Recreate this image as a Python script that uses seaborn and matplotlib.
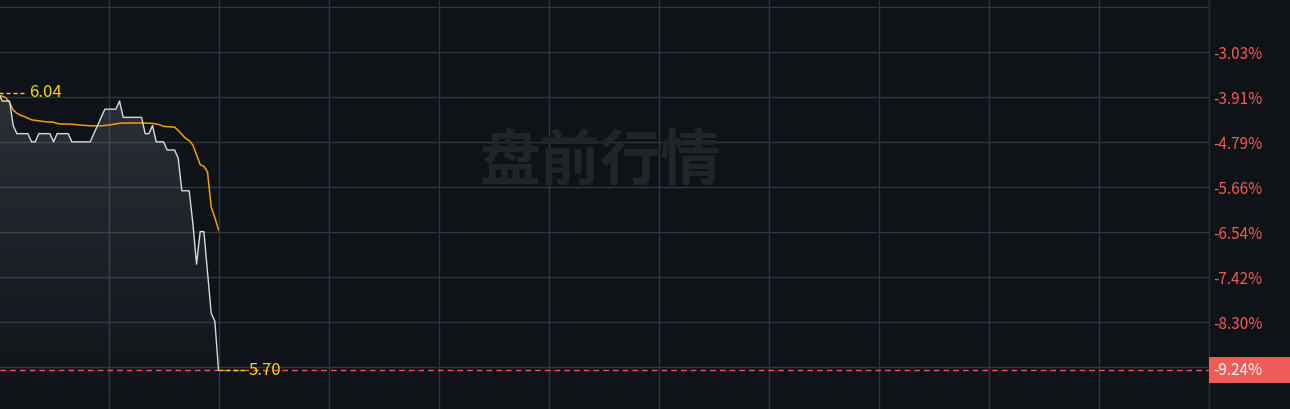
import numpy as np
import pandas as pd
import matplotlib
matplotlib.use('Agg')
import matplotlib.pyplot as plt
import matplotlib.transforms as mtransforms
from matplotlib.patches import Rectangle
import seaborn as sns

# === data (pre-market, one point per minute from 4:00) ===
minutes = list(range(61))
price = [6.04, 6.03, 6.03, 6.03, 6.00, 5.99, 5.99, 5.99, 5.99, 5.98,
         5.98, 5.99, 5.99, 5.99, 5.99, 5.98, 5.99, 5.99, 5.99, 5.99,
         5.98, 5.98, 5.98, 5.98, 5.98, 5.98, 5.99, 6.00, 6.01, 6.02,
         6.02, 6.02, 6.02, 6.03, 6.01, 6.01, 6.01, 6.01, 6.01, 6.01,
         5.99, 5.99, 6.00, 5.98, 5.98, 5.98, 5.97, 5.97, 5.97, 5.96,
         5.92, 5.92, 5.92, 5.88, 5.83, 5.87, 5.87, 5.82, 5.77, 5.76,
         5.70]
avg_price = [6.037, 6.036, 6.034, 6.028, 6.019, 6.015, 6.0125, 6.011, 6.009, 6.007,
             6.0063, 6.0057, 6.0051, 6.0045, 6.0043, 6.0040, 6.0025, 6.0018, 6.0018, 6.0018,
             6.0015, 6.0011, 6.0007, 6.0003, 6.0000, 5.9997, 5.9995, 5.9994, 5.9996, 6.0000,
             6.0005, 6.0012, 6.0020, 6.0027, 6.0030, 6.0030, 6.0031, 6.0031, 6.0031, 6.0030,
             6.0029, 6.0028, 6.0025, 6.0020, 6.0008, 5.9990, 5.9985, 5.9983, 5.9981, 5.9939,
             5.9890, 5.9843, 5.9816, 5.976, 5.964, 5.952, 5.950, 5.943, 5.900, 5.887,
             5.872]
prev_close = 6.28

grid_pct = [-2.15, -3.03, -3.91, -4.79, -5.66, -6.54, -7.42, -8.30, -9.17]
tick_labels = ['', '-3.03%', '-3.91%', '-4.79%', '-5.66%', '-6.54%', '-7.42%', '-8.30%', '']
watermark = '盘前行情'

df = pd.DataFrame({'minute': minutes, 'price': price, 'avg': avg_price})
df['pct'] = (df['price'] / prev_close - 1) * 100
df['avg_pct'] = (df['avg'] / prev_close - 1) * 100

# === style ===
bg = '#0f1217'
grid_c = '#2c3644'
red = '#f25b58'
yellow = '#f5d800'

sns.set_theme(style='dark', rc={'axes.facecolor': bg, 'figure.facecolor': bg})
plt.rcParams['font.family'] = ['Noto Sans CJK SC', 'DejaVu Sans']

W, H = 1290, 409
fig = plt.figure(figsize=(W / 100, H / 100), dpi=100)
ax = fig.add_axes([0, 0, 1208.5 / W, 1])
ax.set_facecolor(bg)

ylo, yhi = -9.992, -2.009
xlo, xhi = 0.4, 330

# gradient fill under price line
poly = ax.fill_between(df['minute'], df['pct'], ylo, facecolor='none', edgecolor='none')
alpha = np.linspace(0.16, 0.0, 256).reshape(-1, 1)
rgba = np.zeros((256, 1, 4))
rgba[..., 0] = 0.80
rgba[..., 1] = 0.82
rgba[..., 2] = 0.86
rgba[..., 3] = alpha
im = ax.imshow(rgba, extent=[0, df['minute'].max(), ylo, df['pct'].max()],
               aspect='auto', origin='upper', zorder=1, interpolation='bilinear')
im.set_clip_path(poly.get_paths()[0], transform=ax.transData)

sns.lineplot(data=df, x='minute', y='avg_pct', color='#f39c12', linewidth=1.1, ax=ax, zorder=3)
sns.lineplot(data=df, x='minute', y='pct', color='#d9d9d9', linewidth=1.0, ax=ax, zorder=4)

# grid
for g in grid_pct:
    ax.axhline(g, color=grid_c, linewidth=1, zorder=0)
for vx in range(30, 331, 30):
    ax.axvline(vx, color=grid_c, linewidth=1, zorder=0)

# watermark
ax.text(0.497, 0.604, watermark, transform=ax.transAxes, ha='center', va='center',
        fontsize=43.5, fontweight='bold', color='#212429', zorder=0.5)

# last price dashed line
last_pct = df['pct'].iloc[-1]
ax.axhline(last_pct, color=red, linewidth=1, linestyle=(0, (4, 3)), zorder=2)

# high / low markers
hi_i = df['pct'].idxmax()
lo_i = df['pct'].idxmin()
for i in (hi_i, lo_i):
    m = df['minute'].iloc[i]
    p = df['pct'].iloc[i]
    ax.plot([m, m + 7], [p, p], color=yellow, linewidth=1, linestyle=(0, (3, 2)), zorder=5)
    ax.text(m + 8.3, p, f"{df['price'].iloc[i]:.2f}", color=yellow, fontsize=12,
            ha='left', va='center', zorder=6)

ax.set_xlim(xlo, xhi)
ax.set_ylim(ylo, yhi)
ax.set_xticks([])
ax.yaxis.tick_right()
ax.set_yticks(grid_pct)
ax.set_yticklabels(tick_labels)
ax.tick_params(axis='y', length=0, pad=3.5, labelsize=11, labelcolor=red)
ax.set_xlabel('')
ax.set_ylabel('')
for s in ['top', 'left', 'bottom']:
    ax.spines[s].set_visible(False)
ax.spines['right'].set_color('#262c35')
ax.spines['right'].set_linewidth(1)

# current value box on right axis
trans = mtransforms.blended_transform_factory(ax.transAxes, ax.transData)
box_h = 26 / H * (yhi - ylo)
ax.add_patch(Rectangle((1.0, last_pct - box_h / 2), (W - 1208.5) / 1208.5, box_h,
                       transform=trans, facecolor=red, edgecolor='none', clip_on=False, zorder=7))
ax.text(1.0 + 4.5 / 1208.5, last_pct, f"{last_pct:.2f}%", transform=trans, color='white',
        fontsize=11, ha='left', va='center', clip_on=False, zorder=8)

fig.savefig('out.png', dpi=100, facecolor=bg)
